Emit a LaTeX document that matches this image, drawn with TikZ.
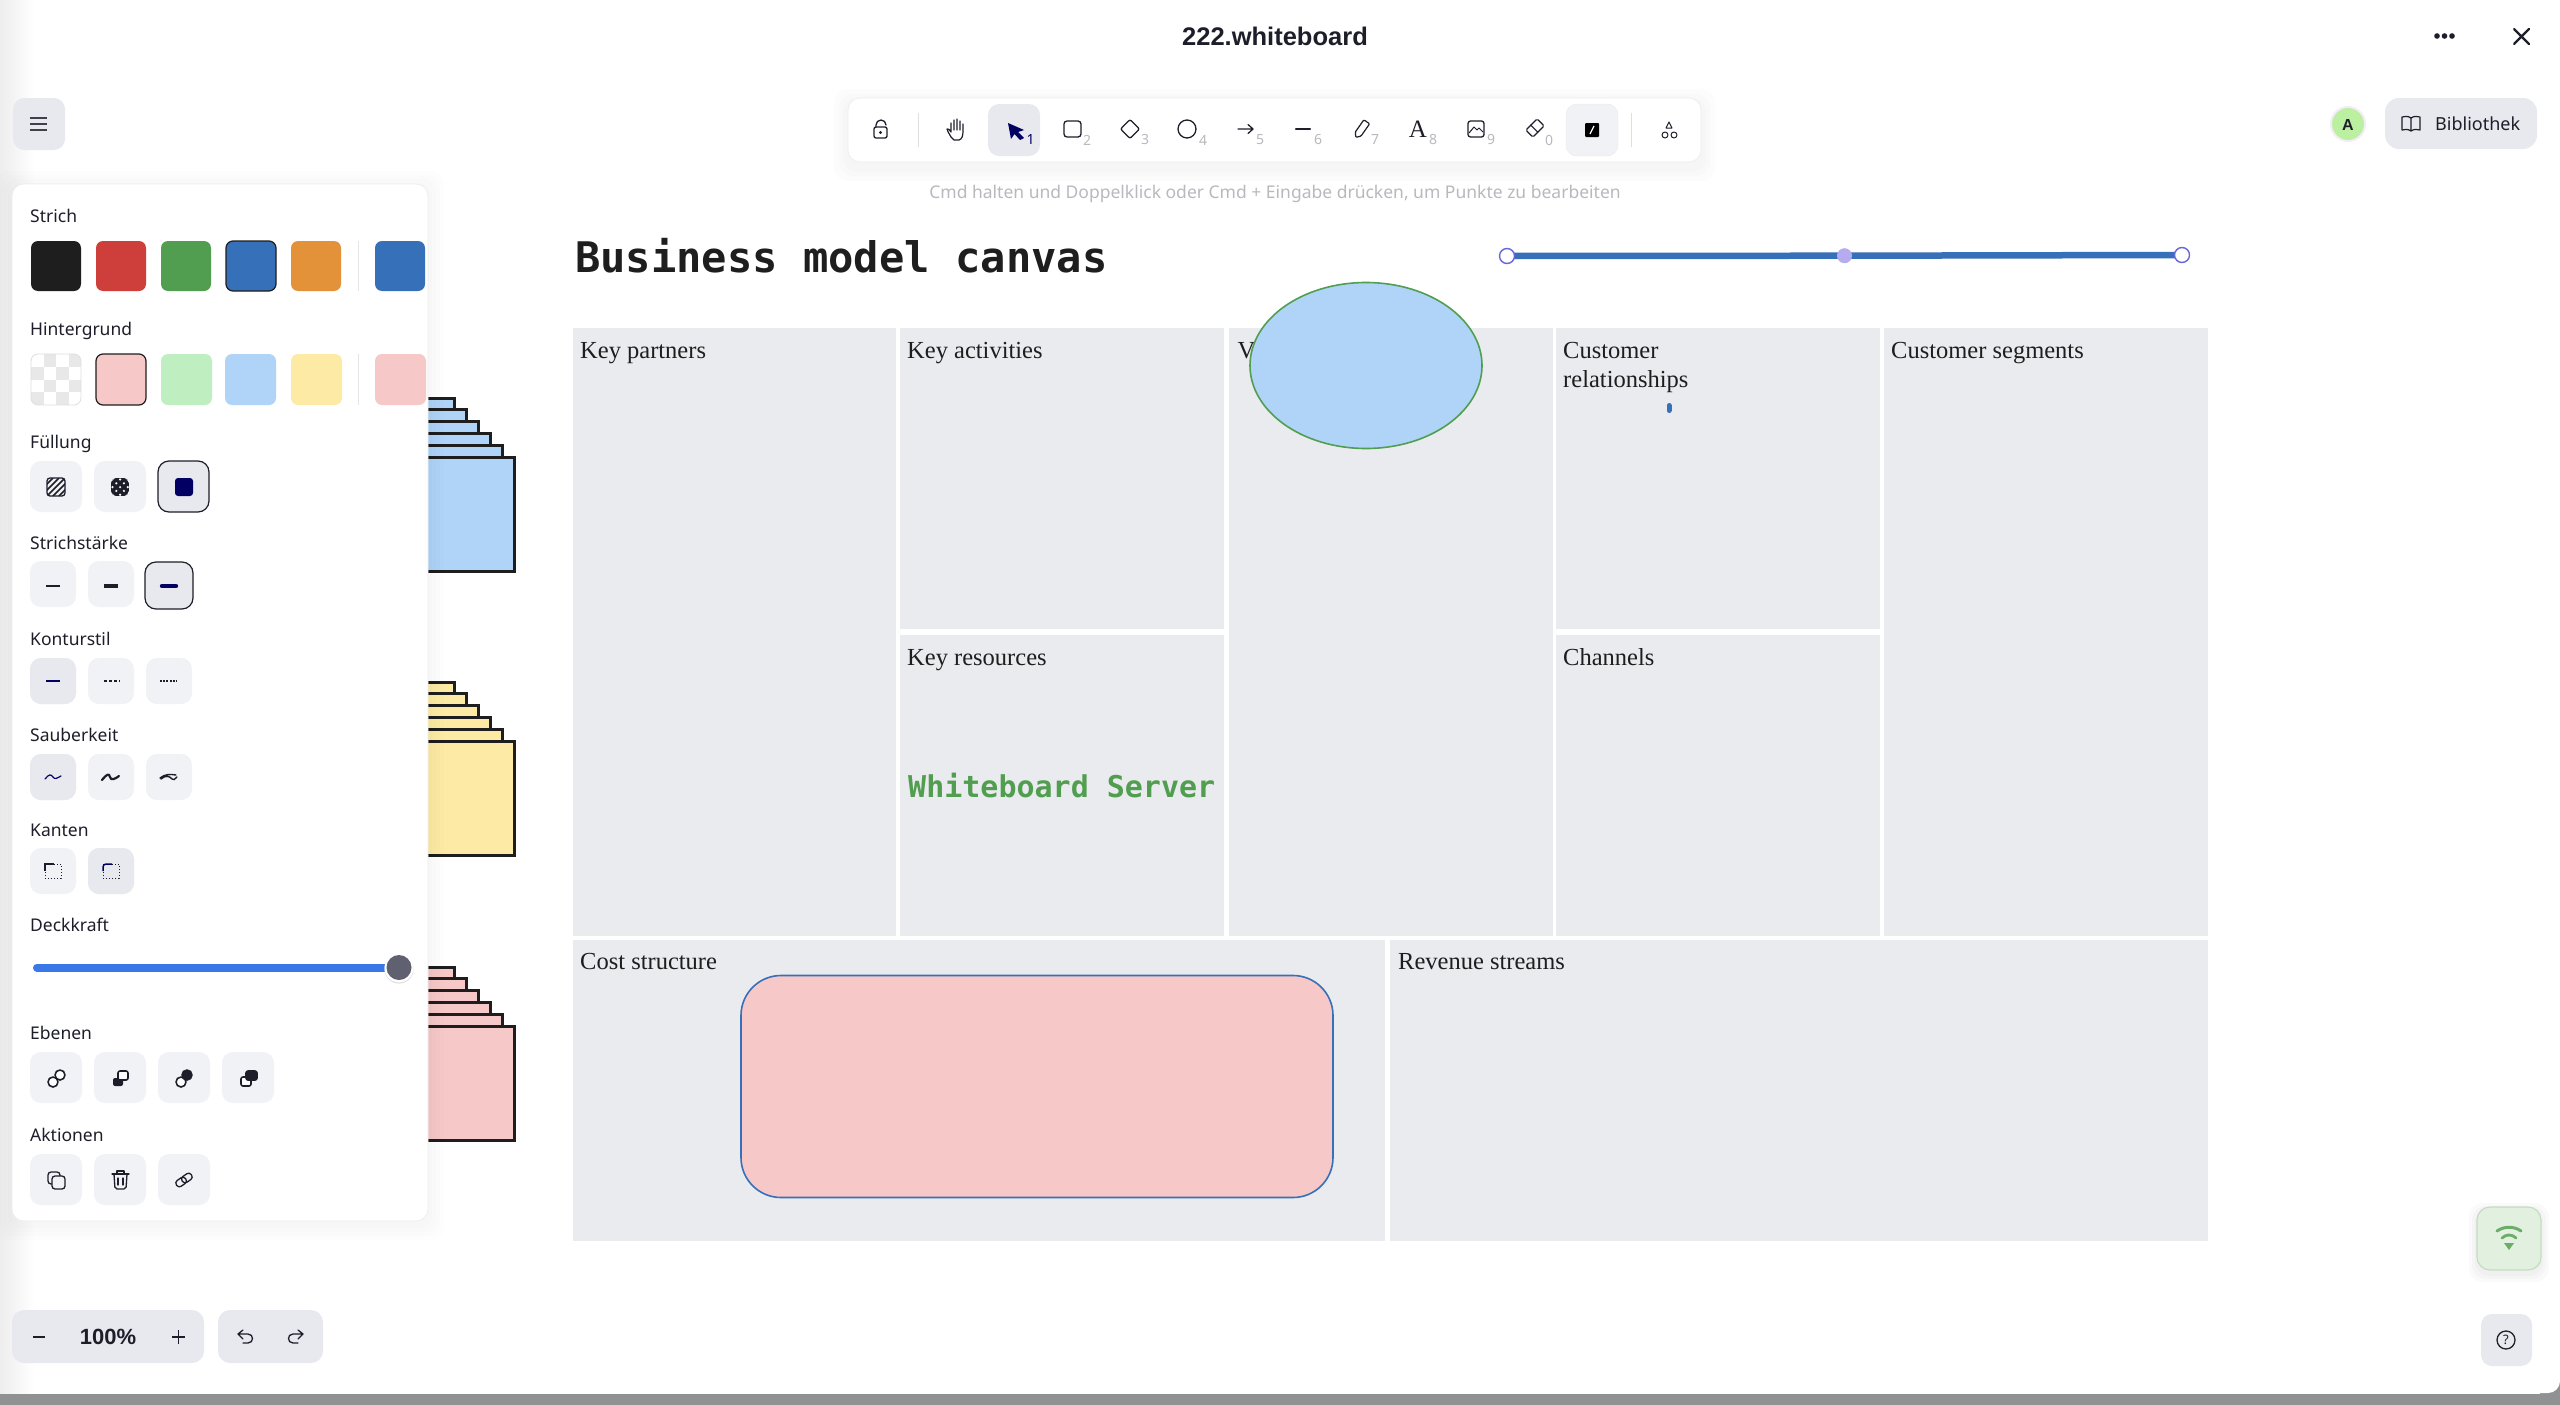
\documentclass[tikz,border=0pt]{standalone}
\usepackage{fontspec}
\setmainfont{Liberation Serif}
\newfontfamily\uifont{Noto Sans}
\newfontfamily\uibold{Liberation Sans}
\newfontfamily\boardmono{DejaVu Sans Mono}
\usepackage{tikz}
\usetikzlibrary{calc, arrows.meta}
\definecolor{cellgray}{HTML}{E9EBEE}
\definecolor{btngray}{HTML}{F1F2F6}
\definecolor{btnact}{HTML}{E7E9EE}
\definecolor{uidark}{HTML}{1E1E2A}
\definecolor{hintgray}{HTML}{B8B9BE}
\definecolor{navy}{HTML}{030064}
\definecolor{handle}{HTML}{6965DB}
\definecolor{handlemid}{HTML}{B5ACF0}
\definecolor{sblack}{HTML}{1E1E1E}
\definecolor{sred}{HTML}{CE3F3B}
\definecolor{sgreen}{HTML}{529E50}
\definecolor{sblue}{HTML}{3670B9}
\definecolor{sorange}{HTML}{E3923A}
\definecolor{bgpink}{HTML}{F6C8C8}
\definecolor{bggreen}{HTML}{BFEFC0}
\definecolor{bgblue}{HTML}{AFD4F8}
\definecolor{bgyellow}{HTML}{FDEBA5}
\definecolor{sliderblue}{HTML}{3A78E8}
\definecolor{knobgray}{HTML}{5F6070}
\definecolor{barpale}{HTML}{8F9193}
\definecolor{avatargreen}{HTML}{BAF0A0}
\definecolor{wifibg}{HTML}{E2F0E0}
\tikzset{
	celltext/.style={anchor=base west, inner sep=0pt, text=sblack, font=\fontsize{24.5}{29.7}\selectfont},
	paneltext/.style={anchor=base west, inner sep=0pt, text=uidark, font=\uifont\fontsize{17.5}{21}\selectfont},
	subnum/.style={inner sep=0pt, text=hintgray, font=\uifont\fontsize{14}{16}\selectfont},
	swatch/.style={rounded corners=7pt, line width=.8pt},
	panelbtn/.style={fill=btngray, rounded corners=11pt},
	icon/.style={draw=uidark, line width=1.6pt, line cap=round, line join=round},
}
\begin{document}
\begin{tikzpicture}[x=1pt,y=-1pt]
	\useasboundingbox (0,0) rectangle (2560,1405);
	
	% window
	\fill[white] (0,0) rectangle (2560,1405);
	\shade[left color=gray!14, right color=white] (0,0) rectangle (34,1394);
	\fill[barpale] (0,1394) rectangle (2560,1405);
	\fill[barpale] (2540,1380) rectangle (2560,1405);
	\fill[white] (2530,1370) -- (2560,1370) -- (2560,1381) arc (0:-90:12pt) -- (2530,1393) -- cycle;
	
	% canvas cells
	\foreach \xa/\ya/\xb/\yb in {573/328/896/935.5, 900/328/1224/629, 900/635/1224/935.5, 1229/328/1553/935.5, 1556/328/1880/629, 1556/635/1880/935.5, 1884/328/2208/935.5, 573/939.5/1385/1240.5, 1390/939.5/2208/1240.5} {
		\fill[cellgray] (\xa,\ya) rectangle (\xb,\yb);
	}
	\node[celltext] (partners) at (580,358) {Key partners};
	\node[celltext] (activities) at (907,358) {Key activities};
	\node[celltext] (resources) at (907,665) {Key resources};
	\node[celltext] (valuev) at (1237.5,358) {V};
	\node[celltext] (custrel) at (1563,358) {Customer};
	\node[celltext] (custrelb) at (1563,387.7) {relationships};
	\node[celltext] (channels) at (1563,665) {Channels};
	\node[celltext] (segments) at (1891,358) {Customer segments};
	\node[celltext] (cost) at (580,969) {Cost structure};
	\node[celltext] (revenue) at (1398,969) {Revenue streams};
	
	% texts on the board
	\node[anchor=west, inner sep=0pt, text=sblack, font=\boardmono\bfseries\fontsize{42.1}{48}\selectfont] (title) at (575,256) {Business model canvas};
	\node[anchor=west, inner sep=0pt, text=sgreen, font=\boardmono\bfseries\fontsize{30}{34}\selectfont] (server) at (908,785.5) {Whiteboard Server};
	
	% shapes on the board
	\draw[sgreen, line width=1.6pt, fill=bgblue] (1366,365.5) ellipse [x radius=116pt, y radius=83pt];
	\draw[sblue, line width=1.6pt, fill=bgpink, rounded corners=40pt] (741,975.5) rectangle (1333,1197.5);
	\draw[sblue, line width=5pt, line cap=round] (1669,405.5) -- (1669,410.5);
	
	% selected line
	\draw[sblue, line width=6.5pt] (1507,256) -- (1844.5,255.7) -- (2182,255);
	\draw[handle, line width=1.4pt, fill=white] (1507,256) circle (7.5pt);
	\fill[handlemid] (1844.5,255.7) circle (7.5pt);
	\draw[handle, line width=1.4pt, fill=white] (2182,255) circle (7.5pt);
	
	% card stacks
	\foreach \stackcol/\dy in {bgblue/0, bgyellow/284, bgpink/569} {
		\foreach \n in {5,...,1} {
			\draw[sblack, line width=3pt, fill=\stackcol] (300,457+\dy-\n*11.8) rectangle (514-\n*12,571+\dy-\n*11.8);
		}
		\draw[sblack, line width=3pt, fill=\stackcol] (300,457+\dy) rectangle (514,571+\dy);
	}
	
	% panel
	\foreach \g in {16,12,8,4} {
		\fill[black, opacity=.008, rounded corners=14pt] (12-\g,184-\g+3) rectangle (428+\g,1221+\g+3);
	}
	\fill[white, rounded corners=12pt] (12,184) rectangle (428,1221);
	\draw[gray!15, line width=.6pt, rounded corners=12pt] (12,184) rectangle (428,1221);
	\node[paneltext] (strich) at (30,222.5) {Strich};
	\node[paneltext] (hintergrund) at (30,335.5) {Hintergrund};
	\node[paneltext] (fuellung) at (30,448.5) {Füllung};
	\node[paneltext] (staerke) at (30,549.5) {Strichstärke};
	\node[paneltext] (kontur) at (30,645.5) {Konturstil};
	\node[paneltext] (sauber) at (30,741.5) {Sauberkeit};
	\node[paneltext] (kanten) at (30,836.5) {Kanten};
	\node[paneltext] (deckkraft) at (30,931.5) {Deckkraft};
	\node[paneltext] (ebenen) at (30,1039.5) {Ebenen};
	\node[paneltext] (aktionen) at (30,1141.5) {Aktionen};
	
	% stroke swatches
	\foreach \xa/\col in {31/sblack, 96/sred, 161/sgreen, 291/sorange, 375/sblue} {
		\fill[\col, swatch] (\xa,241) rectangle ++(50,50);
	}
	\draw[swatch, fill=sblue, draw=sblack, line width=1.2pt] (226,241) rectangle ++(50,50);
	\draw[gray!20, line width=.8pt] (358,241) -- (358,291);
	
	% background swatches
	\begin{scope}
		\clip[rounded corners=7pt] (31,354) rectangle ++(50,51);
		\fill[white] (31,354) rectangle ++(50,51);
		\foreach \i in {0,...,3} {
			\foreach \j in {0,...,3} {
				\pgfmathparse{int(mod(\i+\j,2))}
				\ifnum\pgfmathresult=1
					\fill[gray!18] (31+\i*12.5,354+\j*12.75) rectangle ++(12.5,12.75);
				\fi
			}
		}
	\end{scope}
	\draw[gray!25, swatch] (31,354) rectangle ++(50,51);
	\draw[sblack, swatch, fill=bgpink, line width=1.2pt] (96,354) rectangle ++(50,51);
	\foreach \xa/\col in {161/bggreen, 225/bgblue, 291/bgyellow, 375/bgpink} {
		\fill[\col, swatch] (\xa,354) rectangle ++(51,51);
	}
	\draw[gray!20, line width=.8pt] (358,354) -- (358,405);
	
	% fill buttons
	\fill[panelbtn] (30,461) rectangle ++(52,51);
	\fill[panelbtn] (94,461) rectangle ++(52,51);
	\draw[panelbtn, fill=btnact, draw=uidark, line width=1.2pt] (158,461) rectangle ++(51,51);
	\begin{scope}
		\clip[rounded corners=3pt] (47,478) rectangle ++(18,18);
		\foreach \d in {-18,-12,...,18} {
			\draw[uidark, line width=1.5pt] (47+\d,496) -- (65+\d,478);
		}
	\end{scope}
	\draw[uidark, line width=1.3pt, rounded corners=3pt] (47,478) rectangle ++(18,18);
	\begin{scope}
		\clip[rounded corners=5pt] (111,478) rectangle ++(18,18);
		\fill[uidark] (111,478) rectangle ++(18,18);
		\foreach \i in {0,...,4} {
			\foreach \j in {0,...,4} {
				\pgfmathparse{int(mod(\i+\j,2))}
				\ifnum\pgfmathresult=0
					\fill[white] (112.5+\i*3.8,479.5+\j*3.8) circle (1.2pt);
				\fi
			}
		}
	\end{scope}
	\fill[navy, rounded corners=3pt] (175,478) rectangle ++(18,18);
	
	% stroke width, stroke style, sloppiness, edges
	\foreach \y in {561,658,754,848} {
		\fill[panelbtn] (30,\y) rectangle ++(46,46);
		\fill[panelbtn] (88,\y) rectangle ++(46,46);
	}
	\fill[panelbtn] (146,658) rectangle ++(46,46);
	\fill[panelbtn] (146,754) rectangle ++(46,46);
	\fill[panelbtn, fill=btnact] (30,658) rectangle ++(46,46);
	\fill[panelbtn, fill=btnact] (30,754) rectangle ++(46,46);
	\fill[panelbtn, fill=btnact] (88,848) rectangle ++(46,46);
	\draw[panelbtn, fill=btnact, draw=uidark, line width=1.2pt] (145,562) rectangle ++(48,47);
	\draw[uidark, line width=1.8pt] (46,586) -- (60,586);
	\draw[uidark, line width=3.4pt] (104,586) -- (118,586);
	\draw[navy, line width=4.4pt, line cap=round] (162,586) -- (176,586);
	\draw[navy, line width=1.6pt] (46,681) -- (60,681);
	\draw[uidark, line width=2pt, dash pattern=on 3pt off 2pt] (104,681) -- (120,681);
	\draw[uidark, line width=1.4pt, dash pattern=on 2pt off 1.2pt] (160,681) -- (177,681);
	\draw[navy, line width=1.2pt, line cap=round] (45,779) .. controls (49,774) and (51,774) .. (53,777) .. controls (55,780) and (57,778) .. (61,776);
	\draw[uidark, line width=2.2pt, line cap=round] (102,780) .. controls (107,774) and (109,773) .. (110,777) .. controls (111,781) and (115,779) .. (119,776);
	\draw[uidark, line width=1.4pt, line cap=round] (160,778) .. controls (165,774) and (170,774) .. (176,775) (161,779) .. controls (165,775) and (170,776) .. (172,779) .. controls (173,781) and (175,779) .. (177,777);
	\draw[uidark, line width=1pt, dotted] (45,864) -- (61,864) -- (61,878) -- (45,878) -- (45,864);
	\draw[uidark, line width=1.5pt] (45,871) -- (45,864) -- (54,864);
	\draw[uidark, line width=1pt, dotted] (103,864) -- (119,864) -- (119,878) -- (103,878) -- (103,864);
	\draw[navy, line width=1.5pt, rounded corners=3pt] (103,871) -- (103,864) -- (112,864);
	
	% opacity slider
	\draw[sliderblue, line width=8pt, line cap=round] (37,967.5) -- (395,967.5);
	\fill[gray!30] (399,969) circle (14.5pt);
	\fill[white] (399,968) circle (14.5pt);
	\fill[knobgray] (399,967.5) circle (12.5pt);
	
	% layer and action buttons
	\foreach \xa in {30,94,158,222} {
		\fill[panelbtn] (\xa,1052) rectangle ++(52,51);
	}
	\foreach \xa in {30,94,158} {
		\fill[panelbtn] (\xa,1154) rectangle ++(52,51);
	}
	\draw[icon, fill=white] (60,1075) circle (5pt);
	\draw[icon, fill=white] (53,1082) circle (5pt);
	\fill[uidark, rounded corners=2pt] (113,1078) rectangle ++(10,8);
	\draw[icon, fill=white, rounded corners=2pt] (118,1071) rectangle ++(10,9);
	\draw[icon, fill=white] (181,1082) circle (5pt);
	\draw[icon, fill=uidark] (187,1075) circle (5pt);
	\draw[icon, fill=white, rounded corners=2pt] (241,1077) rectangle ++(10,9);
	\draw[icon, fill=uidark, rounded corners=2pt] (246,1071) rectangle ++(11,9);
	\draw[icon, line width=1.3pt, rounded corners=3pt] (48,1172) rectangle ++(12,12);
	\draw[icon, line width=1.3pt, fill=btngray, rounded corners=3pt] (52,1176) rectangle ++(13,13);
	\draw[icon, line width=1.3pt, rounded corners=2pt] (114,1174) -- (115,1189) -- (126,1189) -- (127,1174);
	\draw[icon, line width=1.3pt] (112,1174) -- (129,1174) (117,1174) -- (117,1171) -- (124,1171) -- (124,1174) (118,1178) -- (118,1185) (123,1178) -- (123,1185);
	\begin{scope}[shift={(184,1180)}, rotate=35]
		\draw[icon, line width=1.3pt, rounded corners=3pt] (-2,-3.5) rectangle (9,3.5);
		\draw[icon, line width=1.3pt, rounded corners=3pt] (-9,-3.5) rectangle (2,3.5);
	\end{scope}
	
	% top bar
	\node[inner sep=0pt, text=uidark, font=\uibold\bfseries\fontsize{25.5}{29}\selectfont] (filename) at (1275,36) {222.whiteboard};
	\foreach \xa in {2437,2444.5,2452} {
		\fill[uidark] (\xa,36) circle (2.8pt);
	}
	\draw[uidark, line width=2.2pt, line cap=round] (2514,29) -- (2529,44) (2529,29) -- (2514,44);
	
	% menu button
	\fill[btnact, rounded corners=11pt] (13,98) rectangle (65,150);
	\draw[uidark!85, line width=2pt] (30,118) -- (47,118) (30,124) -- (47,124) (30,130) -- (47,130);
	
	% toolbar
	\foreach \g in {14,9,5} {
		\fill[black, opacity=.012, rounded corners=14pt] (848-\g,98-\g+5) rectangle (1701+\g,162+\g+5);
	}
	\fill[white, rounded corners=12pt] (848,98) rectangle (1701,162);
	\draw[gray!15, line width=.6pt, rounded corners=12pt] (848,98) rectangle (1701,162);
	\fill[btnact, rounded corners=11pt] (988,104) rectangle (1040,156);
	\draw[btnact, fill=btngray, rounded corners=11pt] (1566,104) rectangle (1618,156);
	\draw[gray!25, line width=.8pt] (918,113) -- (918,147) (1631,113) -- (1631,147);
	\draw[icon, line width=1.3pt, rounded corners=2pt] (874,127) rectangle (887,138);
	\draw[icon, line width=1.3pt] (876,127) -- (876,125) arc (180:0:5pt);
	\fill[uidark] (880.5,132.5) circle (1.7pt);
	% hand
	\begin{scope}[shift={(957,130)}]
		\draw[icon, line width=1.2pt] (-6,7) .. controls (-8,3) and (-10,1) .. (-10,-1) .. controls (-9,-2) and (-7,0) .. (-6,2) -- (-6,-7) (-3,0) -- (-3,-10) (0,0) -- (0,-11) (3,0) -- (3,-9) (6,1) -- (6,-6) (6,1) .. controls (6,6) and (5,9) .. (2,10) -- (-3,10) -- (-6,7);
	\end{scope}
	% selection arrow
	\fill[navy] (1008,123) -- (1024,130) -- (1018,132) -- (1024,138) -- (1020,140) -- (1014.5,134) -- (1011,139) -- cycle;
	\node[subnum, text=navy] (numa) at (1030.5,140) {1};
	\draw[icon, line width=1.3pt, rounded corners=3pt] (1064,121) rectangle (1081,137);
	\node[subnum] (numb) at (1087,140) {2};
	\draw[icon, line width=1.3pt, rounded corners=2pt] (1130,119.5) -- (1139.5,129) -- (1130,138.5) -- (1120.5,129) -- cycle;
	\node[subnum] (numc) at (1145,140) {3};
	\draw[icon, line width=1.3pt] (1187,129) circle (9pt);
	\node[subnum] (numd) at (1203,140) {4};
	\draw[icon, line width=1.3pt] (1238,129) -- (1253,129) (1248,124.5) -- (1253,129) -- (1248,133.5);
	\node[subnum] (nume) at (1260,140) {5};
	\draw[icon, line width=2.4pt] (1296,129) -- (1310,129);
	\node[subnum] (numf) at (1318,140) {6};
	\begin{scope}[shift={(1361,130)}, rotate=55]
		\draw[icon, line width=1.2pt, rounded corners=1pt] (-9,0) -- (-5,-3.5) -- (10,-3.5) -- (10,3.5) -- (-5,3.5) -- cycle;
	\end{scope}
	\node[subnum] (numg) at (1375,140) {7};
	\node[inner sep=0pt, text=uidark, font=\fontsize{25}{28}\selectfont] (texttool) at (1418,129) {A};
	\node[subnum] (numh) at (1433,140) {8};
	\draw[icon, line width=1.3pt, rounded corners=2.5pt] (1468,121) rectangle (1484,137);
	\draw[icon, line width=1pt] (1469,133) -- (1474,127) -- (1477,130) -- (1479,128) -- (1483,132);
	\node[subnum] (numi) at (1491,140) {9};
	\begin{scope}[shift={(1535,128)}, rotate=45]
		\draw[icon, line width=1.2pt, rounded corners=1.5pt] (-8,-5) rectangle (8,5);
		\draw[icon, line width=1.2pt] (-1,-5) -- (-1,5);
	\end{scope}
	\node[subnum] (numj) at (1549,140) {0};
	\fill[black, rounded corners=1pt] (1585,123) rectangle (1599,137);
	\draw[white, line width=1.2pt] (1590,134) -- (1594,126);
	\draw[icon, line width=1pt] (1669,122) -- (1672,128) -- (1666,128) -- cycle;
	\draw[icon, line width=1pt] (1665,135) circle (3pt) (1674,135) circle (3pt);
	\node[inner sep=0pt, text=hintgray, font=\uifont\fontsize{17.5}{22}\selectfont] (hint) at (1275,193.5) {Cmd halten und Doppelklick oder Cmd + Eingabe drücken, um Punkte zu bearbeiten};
	
	% library
	\fill[avatargreen, draw=violet!8, line width=2pt] (2348,124) circle (17pt);
	\node[inner sep=0pt, text=uidark, font=\uibold\bfseries\fontsize{16}{18}\selectfont] (avatar) at (2348,124.5) {A};
	\fill[btnact, rounded corners=14pt] (2385,98) rectangle (2537,149);
	\draw[icon, line width=1.2pt] (2411,131) -- (2411,118) .. controls (2408,116) and (2405,116) .. (2402,117) -- (2402,130) .. controls (2405,129) and (2408,129) .. (2411,131) .. controls (2414,129) and (2417,129) .. (2420,130) -- (2420,117) .. controls (2417,116) and (2414,116) .. (2411,118);
	\node[anchor=west, inner sep=0pt, text=uidark, font=\uifont\fontsize{18}{22}\selectfont] (library) at (2435,124) {Bibliothek};
	
	% zoom and undo
	\fill[btnact, rounded corners=12pt] (12,1310) rectangle (204,1363);
	\fill[btnact, rounded corners=12pt] (218,1310) rectangle (323,1363);
	\draw[uidark, line width=1.4pt] (33,1337) -- (45,1337) (172,1337) -- (185,1337) (178.5,1330) -- (178.5,1344);
	\node[inner sep=0pt, text=uidark, font=\uibold\bfseries\fontsize{22}{24}\selectfont] (zoomval) at (108,1337) {100\%};
	\draw[icon, line width=1.3pt] (243,1330) -- (238,1334) -- (243,1339) (238,1334) -- (248,1334) .. controls (254,1334) and (254,1343) .. (248,1343) -- (243,1343);
	\draw[icon, line width=1.3pt] (298,1330) -- (303,1334) -- (298,1339) (303,1334) -- (293,1334) .. controls (287,1334) and (287,1343) .. (293,1343) -- (298,1343);
	
	% connection and help
	\foreach \g in {8,5,2} {
		\fill[black, opacity=.02, rounded corners=14pt] (2477-\g,1207-\g+4) rectangle (2541+\g,1270+\g+4);
	}
	\draw[sgreen!35, fill=wifibg, line width=1.2pt, rounded corners=13pt] (2477,1207) rectangle (2541,1270);
	\draw[sgreen!85, line width=3pt, line cap=round] (2497,1231) .. controls (2504,1226) and (2514,1226) .. (2521,1231);
	\draw[sgreen!85, line width=2.8pt, line cap=round] (2502,1238) .. controls (2506,1234) and (2512,1234) .. (2516,1238);
	\fill[sgreen!85] (2504,1243) -- (2514,1243) -- (2509,1250) -- cycle;
	\fill[btnact, rounded corners=11pt] (2481,1314) rectangle (2532,1366);
	\draw[uidark, line width=1.3pt] (2506,1340) circle (9pt);
	\node[inner sep=0pt, text=uidark, font=\uifont\fontsize{13}{15}\selectfont] (helpq) at (2506,1340) {?};
\end{tikzpicture}
\end{document}
